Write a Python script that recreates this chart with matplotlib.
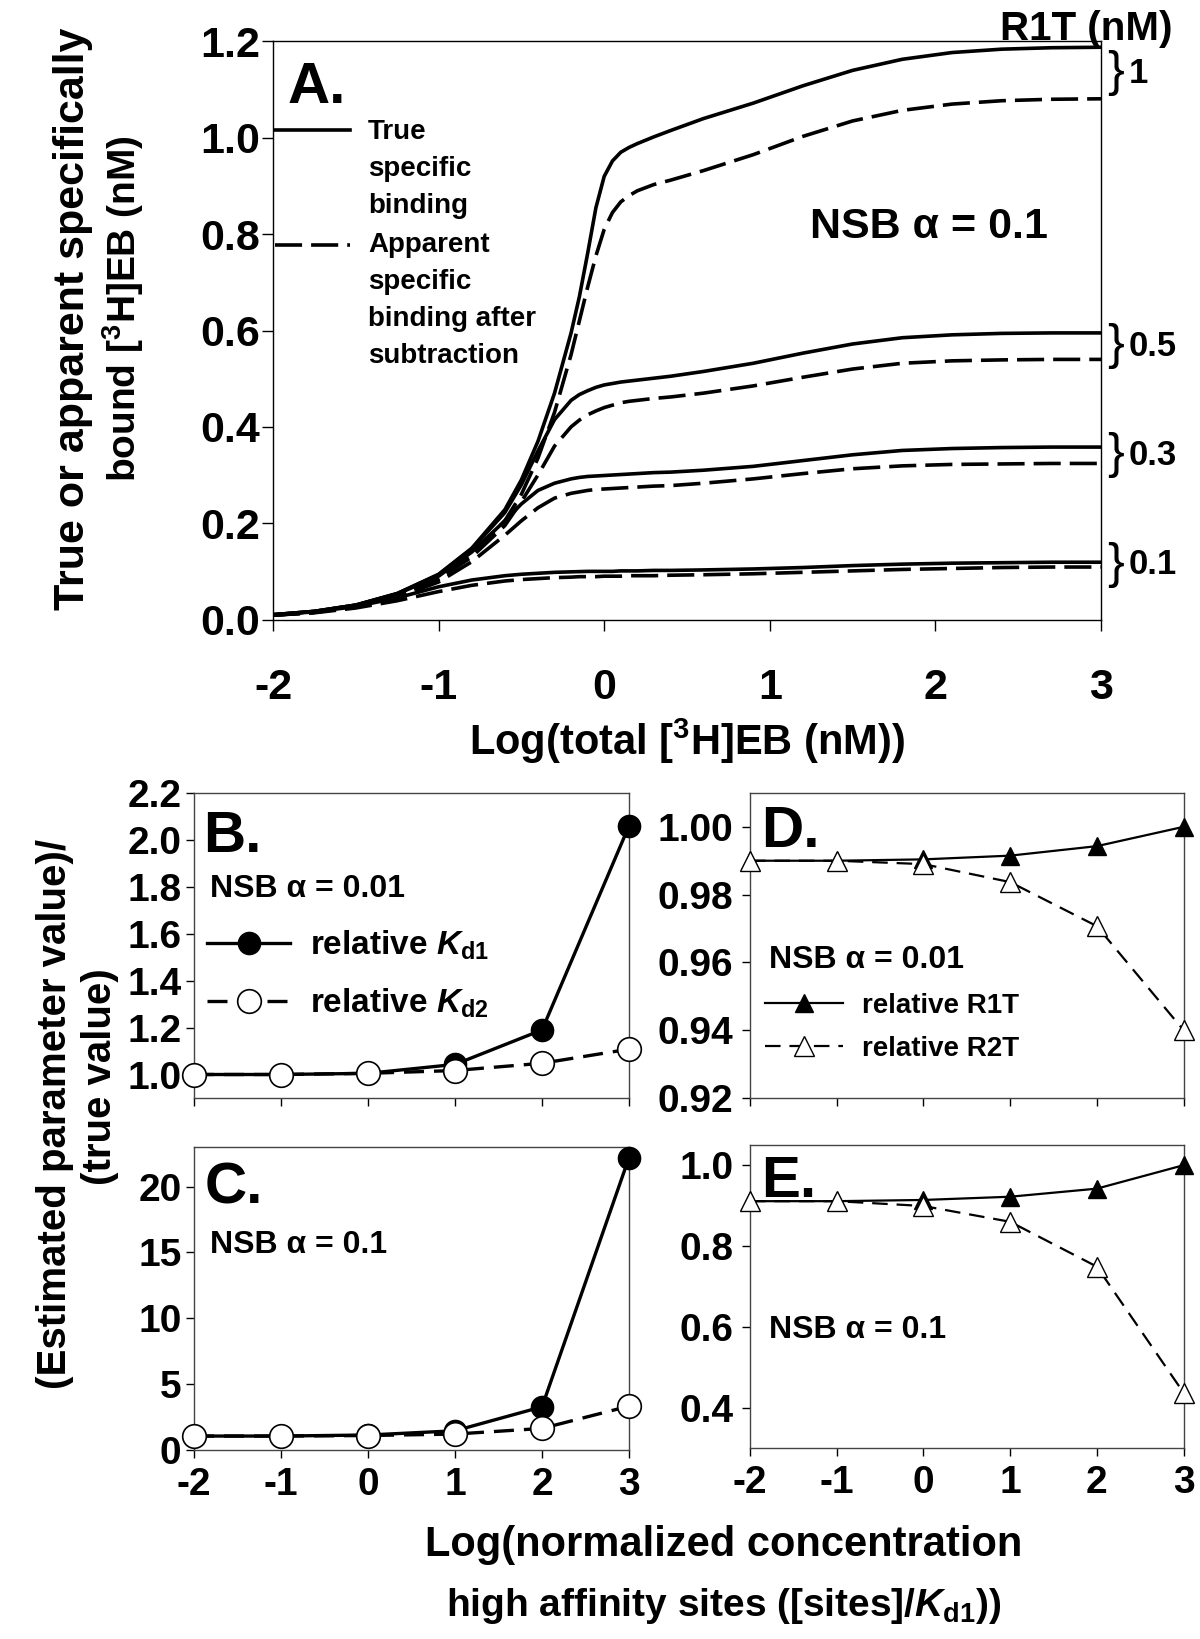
import numpy as np
import matplotlib
matplotlib.use("Agg")
import matplotlib.pyplot as plt
from matplotlib import transforms

plt.rcParams['font.family'] = ['Liberation Sans', 'DejaVu Sans']
plt.rcParams['font.weight'] = 'bold'
plt.rcParams['axes.labelweight'] = 'bold'
plt.rcParams['axes.unicode_minus'] = False
plt.rcParams['mathtext.fontset'] = 'custom'
plt.rcParams['mathtext.rm'] = 'Liberation Sans:bold'
plt.rcParams['mathtext.bf'] = 'Liberation Sans:bold'
plt.rcParams['mathtext.it'] = 'Liberation Sans:bold:italic'

# ---- panel A data: log(total [3H]EB) vs bound ----
log_total = [-2, -1.75, -1.5, -1.25, -1, -0.8, -0.6, -0.5, -0.4, -0.3, -0.2, -0.15, -0.1, -0.05,
             0, 0.05, 0.1, 0.15, 0.2, 0.3, 0.4, 0.6, 0.9, 1.2, 1.5, 1.8, 2.1, 2.4, 2.7, 3]

true_r1 = [0.010, 0.017, 0.030, 0.054, 0.094, 0.148, 0.228, 0.29, 0.37, 0.47, 0.595, 0.67, 0.76, 0.855,
           0.92, 0.952, 0.97, 0.98, 0.988, 1.002, 1.015, 1.04, 1.072, 1.108, 1.14, 1.163, 1.177, 1.184, 1.187, 1.188]
app_r1 = [0.009, 0.015, 0.027, 0.049, 0.085, 0.135, 0.205, 0.26, 0.335, 0.43, 0.55, 0.62, 0.69, 0.755,
          0.81, 0.845, 0.867, 0.88, 0.89, 0.903, 0.912, 0.932, 0.965, 1.003, 1.035, 1.057, 1.07, 1.077, 1.08, 1.081]

true_r05 = [0.010, 0.017, 0.030, 0.054, 0.093, 0.146, 0.222, 0.28, 0.35, 0.415, 0.455, 0.467, 0.475, 0.482,
            0.487, 0.49, 0.493, 0.495, 0.497, 0.501, 0.505, 0.515, 0.532, 0.553, 0.572, 0.585, 0.591, 0.594, 0.595, 0.595]
app_r05 = [0.009, 0.015, 0.027, 0.048, 0.083, 0.13, 0.195, 0.245, 0.3, 0.36, 0.4, 0.414, 0.425, 0.433,
           0.44, 0.445, 0.45, 0.453, 0.455, 0.459, 0.462, 0.47, 0.485, 0.503, 0.52, 0.532, 0.537, 0.539, 0.54, 0.54]

true_r03 = [0.010, 0.017, 0.030, 0.053, 0.09, 0.14, 0.205, 0.24, 0.268, 0.283, 0.292, 0.295, 0.297, 0.298,
            0.299, 0.3, 0.301, 0.302, 0.303, 0.305, 0.306, 0.31, 0.318, 0.33, 0.342, 0.351, 0.355, 0.357, 0.358, 0.358]
app_r03 = [0.009, 0.015, 0.026, 0.046, 0.078, 0.12, 0.175, 0.205, 0.232, 0.252, 0.262, 0.265, 0.268, 0.27,
           0.271, 0.272, 0.273, 0.274, 0.275, 0.277, 0.278, 0.283, 0.292, 0.303, 0.313, 0.319, 0.322, 0.323, 0.324, 0.324]

true_r01 = [0.010, 0.016, 0.027, 0.045, 0.068, 0.082, 0.091, 0.094, 0.096, 0.098, 0.099, 0.0995, 0.1, 0.1,
            0.1, 0.1, 0.101, 0.101, 0.101, 0.102, 0.102, 0.103, 0.105, 0.108, 0.112, 0.115, 0.117, 0.118, 0.119, 0.119]
app_r01 = [0.009, 0.014, 0.024, 0.039, 0.058, 0.071, 0.08, 0.083, 0.085, 0.087, 0.088, 0.089, 0.089, 0.089,
           0.09, 0.09, 0.09, 0.091, 0.091, 0.091, 0.092, 0.093, 0.095, 0.098, 0.101, 0.104, 0.106, 0.108, 0.109, 0.109]

r1t_labels = ['1', '0.5', '0.3', '0.1']

# ---- panels B-E ----
log_sites = [-2, -1, 0, 1, 2, 3]
kd1_a001 = [1.0, 1.0, 1.005, 1.043, 1.19, 2.06]
kd2_a001 = [1.0, 1.0, 1.005, 1.017, 1.048, 1.108]
kd1_a01 = [1.06, 1.06, 1.14, 1.46, 3.28, 22.2]
kd2_a01 = [1.06, 1.06, 1.1, 1.21, 1.64, 3.33]
r1t_a001 = [0.990, 0.990, 0.9904, 0.9915, 0.9943, 1.000]
r2t_a001 = [0.990, 0.990, 0.989, 0.9837, 0.9707, 0.940]
r1t_a01 = [0.911, 0.911, 0.914, 0.922, 0.942, 1.000]
r2t_a01 = [0.911, 0.911, 0.899, 0.860, 0.749, 0.437]

fig = plt.figure(figsize=(12, 16.39), dpi=100)

def style_axis(ax, fs, pad=6):
    for s in ax.spines.values():
        s.set_linewidth(1.0)
    ax.tick_params(direction='out', length=6, width=1.0, labelsize=fs, pad=pad)

# ================= Panel A =================
axA = fig.add_axes([0.2275, 0.622, 0.69, 0.3527])
dash = (7.5, 2.5)
for t, a in [(true_r1, app_r1), (true_r05, app_r05), (true_r03, app_r03), (true_r01, app_r01)]:
    axA.plot(log_total, t, color='black', lw=2.6, solid_capstyle='round', solid_joinstyle='round')
    axA.plot(log_total, a, color='black', lw=2.6, dashes=dash)
axA.set_xlim(-2, 3)
axA.set_ylim(0, 1.2)
axA.set_xticks(range(-2, 4))
axA.set_yticks(np.arange(0, 1.21, 0.2))
axA.set_yticklabels(['%.1f' % v for v in np.arange(0, 1.21, 0.2)])
style_axis(axA, 31)
axA.tick_params(length=8)
axA.tick_params(axis='x', pad=27)
axA.tick_params(axis='y', pad=1)
axA.set_xlabel(r'Log(total [$^{3}$H]EB (nM))', fontsize=30, labelpad=6)

# y label of panel A, two lines
fig.text(73 / 1200, 1 - 319 / 1639, 'True or apparent specifically', rotation=90, fontsize=31,
         ha='center', va='center')
fig.text(123 / 1200, 1 - 309 / 1639, 'bound [$^{3}$H]EB (nM)', rotation=90, fontsize=28,
         ha='center', va='center')

axA.text(0.017, 0.894, 'A.', transform=axA.transAxes, fontsize=42, va='baseline', ha='left')
axA.text(0.649, 0.66, 'NSB α = 0.1', transform=axA.transAxes, fontsize=31, va='baseline')

# legend drawn by hand so the sample sits on the first text line
axA.plot([0.003, 0.093], [0.847, 0.847], transform=axA.transAxes, color='black', lw=2.6)
axA.plot([0.003, 0.093], [0.648, 0.648], transform=axA.transAxes, color='black', lw=2.6, dashes=dash)
for i, line in enumerate(['True', 'specific', 'binding']):
    axA.text(0.115, 0.843 - i * 0.064, line, transform=axA.transAxes, fontsize=20, va='center')
for i, line in enumerate(['Apparent', 'specific', 'binding after', 'subtraction']):
    axA.text(0.115, 0.648 - i * 0.064, line, transform=axA.transAxes, fontsize=20, va='center')

# R1T labels with braces
fig.text(1172 / 1200, 1 - 40 / 1639, 'R1T (nM)', fontsize=29, ha='right', va='baseline')
trans = transforms.blended_transform_factory(axA.transAxes, axA.transData)
ends = [(true_r1[-1], app_r1[-1]), (true_r05[-1], app_r05[-1]),
        (true_r03[-1], app_r03[-1]), (true_r01[-1], app_r01[-1])]
for lab, (t, a) in zip(r1t_labels, ends):
    ym = (t + a) / 2
    axA.text(1.007, ym, '}', transform=trans, fontsize=36, fontweight='normal',
             va='center', ha='left', clip_on=False)
    axA.text(1.033, ym, lab, transform=trans, fontsize=25, va='center', ha='left', clip_on=False)

# ================= Panels B-E =================
axB = fig.add_axes([0.1617, 0.3301, 0.3625, 0.1861])
axC = fig.add_axes([0.1617, 0.1153, 0.3625, 0.1849])
axD = fig.add_axes([0.625, 0.3301, 0.3613, 0.1861])
axE = fig.add_axes([0.625, 0.1165, 0.3613, 0.1849])

for ax, k1, k2 in [(axB, kd1_a001, kd2_a001), (axC, kd1_a01, kd2_a01)]:
    ax.plot(log_sites, k1, color='black', lw=2.4, marker='o', ms=16, mfc='black', mec='black',
            clip_on=False, zorder=3, label=r'relative $K_{\rm d1}$')
    ax.plot(log_sites, k2, color='black', lw=2.4, dashes=(6, 3), marker='o', ms=17, mfc='white',
            mec='black', mew=1.2, clip_on=False, zorder=4, label=r'relative $K_{\rm d2}$')

for ax, r1, r2 in [(axD, r1t_a001, r2t_a001), (axE, r1t_a01, r2t_a01)]:
    ax.plot(log_sites, r1, color='black', lw=1.6, marker='^', ms=13, mfc='black', mec='black',
            clip_on=False, zorder=3, label='relative R1T')
    ax.plot(log_sites, r2, color='black', lw=1.6, dashes=(7, 4), marker='^', ms=14, mfc='white',
            mec='black', mew=1.0, clip_on=False, zorder=4, label='relative R2T')

for ax in [axB, axC, axD, axE]:
    ax.set_xlim(-2, 3)
    ax.set_xticks(range(-2, 4))
    style_axis(ax, 28)
    for s in ax.spines.values():
        s.set_color('#444444')
axB.tick_params(axis='y', pad=3)
axC.tick_params(axis='y', pad=3)

axB.set_ylim(0.9, 2.2)
axB.set_yticks(np.arange(1.0, 2.21, 0.2))
axB.set_yticklabels(['%.1f' % v for v in np.arange(1.0, 2.21, 0.2)])
axC.set_ylim(0, 23)
axC.set_yticks([0, 5, 10, 15, 20])
axD.set_ylim(0.92, 1.01)
axD.set_yticks(np.arange(0.92, 1.001, 0.02))
axD.set_yticklabels(['%.2f' % v for v in np.arange(0.92, 1.001, 0.02)])
axE.set_ylim(0.3, 1.05)
axE.set_yticks([0.4, 0.6, 0.8, 1.0])
axE.set_yticklabels(['0.4', '0.6', '0.8', '1.0'])
axB.set_xticklabels([])
axD.set_xticklabels([])

axB.text(0.021, 0.807, 'B.', transform=axB.transAxes, fontsize=42, va='baseline')
axC.text(0.025, 0.815, 'C.', transform=axC.transAxes, fontsize=42, va='baseline')
axD.text(0.025, 0.823, 'D.', transform=axD.transAxes, fontsize=42, va='baseline')
axE.text(0.025, 0.828, 'E.', transform=axE.transAxes, fontsize=42, va='baseline')

axB.text(0.037, 0.66, 'NSB α = 0.01', transform=axB.transAxes, fontsize=23, va='baseline')
axC.text(0.037, 0.65, 'NSB α = 0.1', transform=axC.transAxes, fontsize=23, va='baseline')
axD.text(0.043, 0.426, 'NSB α = 0.01', transform=axD.transAxes, fontsize=23, va='baseline')
axE.text(0.043, 0.363, 'NSB α = 0.1', transform=axE.transAxes, fontsize=23, va='baseline')

axB.legend(loc='upper left', bbox_to_anchor=(0.03, 0.555), frameon=False, fontsize=24,
           handlelength=2.5, handletextpad=0.6, labelspacing=0.75, borderpad=0, borderaxespad=0)
axD.legend(loc='upper left', bbox_to_anchor=(0.035, 0.345), frameon=False, fontsize=20,
           handlelength=2.8, handletextpad=0.7, labelspacing=0.62, borderpad=0, borderaxespad=0)

# shared labels of the lower panels
fig.text(55 / 1200, 1 - 1114 / 1639, '(Estimated parameter value)/', rotation=90, fontsize=29,
         ha='center', va='center')
fig.text(100 / 1200, 1 - 1077 / 1639, '(true value)', rotation=90, fontsize=29,
         ha='center', va='center')
fig.text(724 / 1200, 1 - 1545 / 1639, 'Log(normalized concentration', fontsize=30,
         ha='center', va='center')
fig.text(724 / 1200, 1 - 1606 / 1639, r'high affinity sites ([sites]/$K_{\rm d1}$))', fontsize=28,
         ha='center', va='center')

fig.savefig('out.png', dpi=100)
